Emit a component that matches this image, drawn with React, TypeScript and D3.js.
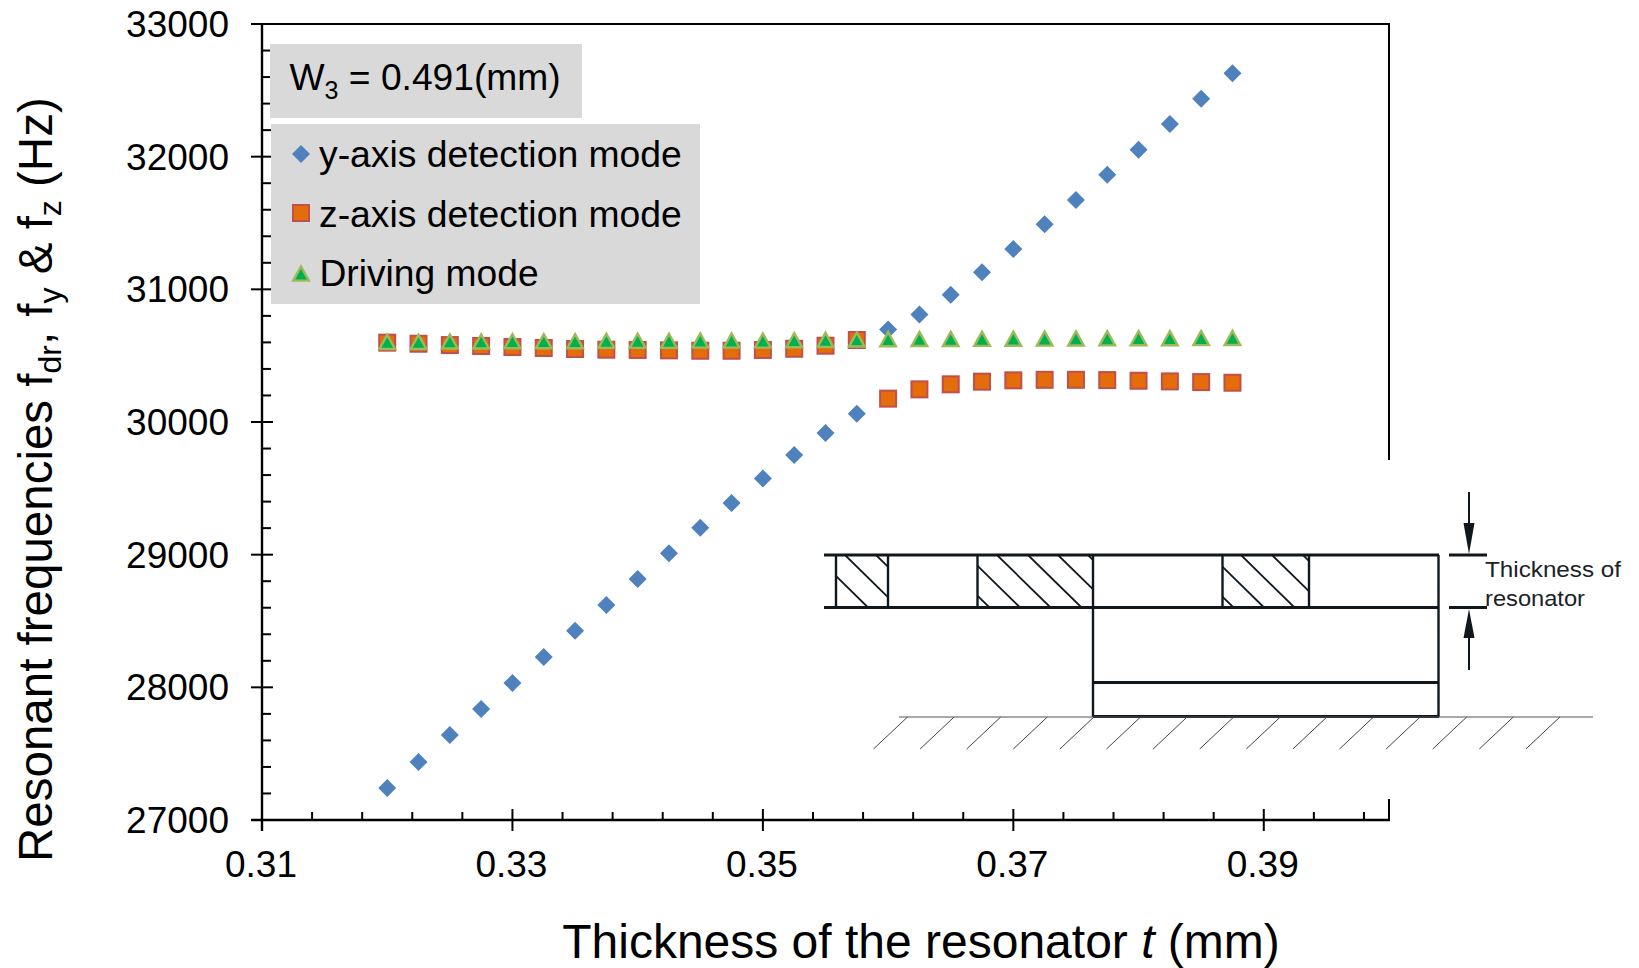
import React from "react";
import * as d3 from "d3";

const thickness = [0.32,0.3225,0.325,0.3275,0.33,0.3325,0.335,0.3375,0.34,0.3425,0.345,0.3475,0.35,0.3525,0.355,0.3575,0.36,0.3625,0.365,0.3675,0.37,0.3725,0.375,0.3775,0.38,0.3825,0.385,0.3875];
const yMode = [27241,27437,27641,27837,28033,28229,28427,28621,28817,29010,29203,29389,29575,29751,29917,30062,30698,30811,30960,31128,31304,31490,31673,31864,32052,32246,32436,32628];
const zMode = [30598,30590,30580,30573,30565,30558,30550,30545,30543,30540,30537,30537,30543,30552,30575,30618,30176,30246,30284,30304,30314,30318,30318,30316,30311,30306,30301,30296];
const driveMode = [30608,30608,30611,30611,30613,30613,30613,30616,30616,30616,30618,30618,30618,30621,30623,30626,30628,30630,30630,30631,30632,30633,30634,30635,30636,30636,30637,30638];
const xMajor = [0.31,0.33,0.35,0.37,0.39];
const yMajor = [27000,28000,29000,30000,31000,32000,33000];
const xLabels = ["0.31","0.33","0.35","0.37","0.39"];

const FONT = "'Liberation Sans', Arial, sans-serif";
const BLUE = "#4f81bd", ORANGE = "#e46c0a", RED = "#c0504d", GREEN = "#00b050", LIME = "#9bbb59";
const AX = "#000";
const DIA = "#10181f";

const x = d3.scaleLinear().domain([0.31, 0.4]).range([262, 1389]);
const y = d3.scaleLinear().domain([27000, 33000]).range([820, 24]);
const xMinor = d3.range(0, 23).map(i => 0.31 + i * 0.004).filter(v => Math.abs(((v - 0.31) / 0.02) - Math.round((v - 0.31) / 0.02)) > 1e-6);
const yMinor = d3.range(27000, 33000, 200).filter(v => v % 1000 !== 0);

const Diamond = ({ cx, cy }: any) => <path d={`M${cx},${cy - 9}L${cx + 9},${cy}L${cx},${cy + 9}L${cx - 9},${cy}Z`} fill={BLUE} />;
const Square = ({ cx, cy }: any) => <rect x={cx - 8} y={cy - 8} width={16} height={16} fill={ORANGE} stroke={RED} strokeWidth={2} />;
const Triangle = ({ cx, cy }: any) => <path d={`M${cx},${cy - 6.5}L${cx + 7.8},${cy + 7.6}L${cx - 7.8},${cy + 7.6}Z`} fill={GREEN} stroke={LIME} strokeWidth={2.4} />;

const hatchCells = [
  { id: "h1", x0: 836, x1: 888, tops: [784, 814.5, 845, 876] },
  { id: "h2", x0: 977.5, x1: 1093, tops: [936, 966.5, 997, 1028, 1058, 1088] },
  { id: "h3", x0: 1222.5, x1: 1309, tops: [1180, 1210.5, 1241, 1272, 1303] },
];
const plateVerticals = [836, 888, 977.5, 1222.5, 1309];
const groundHatch = d3.range(0, 15).map(i => 907.5 + i * 46.6);

export default function App() {
  return (
    <svg width={1639} height={968} style={{ position: "absolute", left: 0, top: 0, background: "#fff" }} fontFamily={FONT}>
      {/* axes frame */}
      <g stroke={AX} strokeWidth={2}>
        <line x1={251} x2={1390} y1={24} y2={24} />
        <line x1={1389} x2={1389} y1={24} y2={820} />
        <line x1={262} x2={262} y1={24} y2={831} strokeWidth={2.4} />
        <line x1={251} x2={1390} y1={820} y2={820} strokeWidth={2.4} />
        {yMajor.map(v => <line key={v} x1={251} x2={273} y1={y(v)} y2={y(v)} />)}
        {yMinor.map(v => <line key={v} x1={262} x2={271} y1={y(v)} y2={y(v)} />)}
        {xMajor.map(v => <line key={v} x1={x(v)} x2={x(v)} y1={809} y2={831} />)}
        {xMinor.map(v => <line key={v} x1={x(v)} x2={x(v)} y1={812} y2={820} />)}
      </g>
      <g fontSize={37} fill="#000">
        {yMajor.map(v => <text key={v} x={229} y={y(v) + 13} textAnchor="end">{v}</text>)}
        {xMajor.map((v, i) => <text key={v} x={x(v) - 1} y={877} textAnchor="middle">{xLabels[i]}</text>)}
      </g>

      {/* white patch behind the inset */}
      <rect x={1370} y={460} width={40} height={339} fill="#fff" />

      {/* legend boxes */}
      <rect x={270} y={44} width={312} height={74} fill="#d9d9d9" />
      <rect x={271} y={124} width={429} height={180} fill="#d9d9d9" />
      <text x={289.5} y={90} fontSize={37.2}>W<tspan fontSize={25} dy={9}>3</tspan><tspan dy={-9}> = 0.491(mm)</tspan></text>
      <Diamond cx={301} cy={154} />
      <Square cx={301} cy={213} />
      <Triangle cx={301} cy={273} />
      <text x={319} y={167} fontSize={37.3}>y-axis detection mode</text>
      <text x={319} y={227} fontSize={37.3}>z-axis detection mode</text>
      <text x={319.5} y={286} fontSize={37.2}>Driving mode</text>

      {/* data */}
      {thickness.map((t, i) => <Diamond key={i} cx={x(t)} cy={y(yMode[i])} />)}
      {thickness.map((t, i) => <Square key={i} cx={x(t)} cy={y(zMode[i])} />)}
      {thickness.map((t, i) => <Triangle key={i} cx={x(t)} cy={y(driveMode[i])} />)}

      {/* inset */}
      <defs>
        {hatchCells.map(c => <clipPath key={c.id} id={c.id}><rect x={c.x0} y={555} width={c.x1 - c.x0} height={52} /></clipPath>)}
      </defs>
      {hatchCells.map(c => (
        <g key={c.id} clipPath={`url(#${c.id})`} stroke={DIA} strokeWidth={1.8}>
          {c.tops.map(tp => <line key={tp} x1={tp} y1={555} x2={tp + 53} y2={607} />)}
        </g>
      ))}
      <g stroke={DIA} fill="none">
        <line x1={824} x2={1439} y1={555} y2={555} strokeWidth={3} />
        <line x1={824} x2={1439} y1={607.5} y2={607.5} strokeWidth={3} />
        {plateVerticals.map(v => <line key={v} x1={v} x2={v} y1={555} y2={607} strokeWidth={2.4} />)}
        <line x1={1093} x2={1093} y1={555} y2={717} strokeWidth={2.4} />
        <line x1={1438.5} x2={1438.5} y1={555} y2={717} strokeWidth={2.4} />
        <line x1={1093} x2={1439} y1={682.5} y2={682.5} strokeWidth={3} />
        <line x1={1093} x2={1439} y1={716.5} y2={716.5} strokeWidth={3} />
        <line x1={1449} x2={1487} y1={555} y2={555} strokeWidth={3} />
        <line x1={1449} x2={1487} y1={607.5} y2={607.5} strokeWidth={3} />
        <line x1={1469} x2={1469} y1={492} y2={530} strokeWidth={2} />
        <line x1={1469} x2={1469} y1={632} y2={670} strokeWidth={2} />
      </g>
      <path d="M1463.5,523L1474.5,523L1469,554Z" fill={DIA} />
      <path d="M1463.5,638L1474.5,638L1469,609Z" fill={DIA} />
      <line x1={899} x2={1593} y1={717} y2={717} stroke="#555" strokeWidth={1.2} />
      <g stroke="#444" strokeWidth={1}>
        {groundHatch.map(g => <line key={g} x1={g} y1={717} x2={g - 34} y2={749} />)}
      </g>
      <text x={1485} y={577} fontSize={22} fill="#1a2228" textLength={136} lengthAdjust="spacingAndGlyphs">Thickness of</text>
      <text x={1485} y={606} fontSize={22} fill="#1a2228" textLength={100} lengthAdjust="spacingAndGlyphs">resonator</text>

      {/* axis titles */}
      <text x={921} y={958} fontSize={48} textAnchor="middle">Thickness of the resonator <tspan fontStyle="italic">t</tspan> (mm)</text>
      <text transform="translate(52,862) rotate(-90)" fontSize={47.5}>
        Resonant frequencies f<tspan fontSize={32} dy={9}>dr</tspan><tspan dy={-9}>,</tspan><tspan dx={2}> f</tspan><tspan fontSize={32} dy={9}>y</tspan><tspan dy={-9}> &amp; f</tspan><tspan fontSize={32} dy={9}>z</tspan><tspan dy={-9}> (Hz)</tspan>
      </text>
    </svg>
  );
}
